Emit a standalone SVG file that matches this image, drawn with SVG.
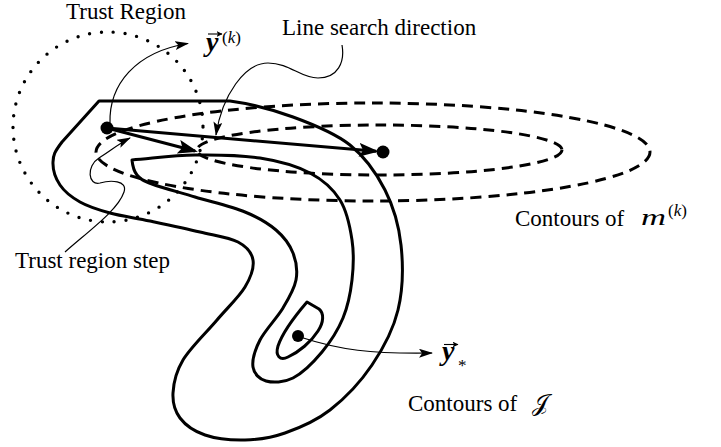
<svg xmlns="http://www.w3.org/2000/svg" width="721" height="447" viewBox="0 0 721 447">
  <style>
    .contour { fill: none; stroke: #000; stroke-width: 3; stroke-linejoin: round; }
    .dashed { fill: none; stroke: #000; stroke-width: 3; stroke-dasharray: 11 7; }
    .dotted { fill: none; stroke: #000; stroke-width: 3.4; stroke-dasharray: 0 11.9; stroke-linecap: round; }
    .thick { fill: none; stroke: #000; stroke-width: 3; }
    .thin { fill: none; stroke: #000; stroke-width: 1.2; }
    .accent { fill: none; stroke: #000; stroke-width: 1.1; }
    .dot { fill: #000; }
    .lbl { font-family: "Liberation Serif", "Times New Roman", serif; font-size: 23px; fill: #000; }
    .math { font-family: "Liberation Serif", "Times New Roman", serif; font-style: italic; fill: #000; }
    .sup { font-family: "Liberation Serif", "Times New Roman", serif; font-size: 17px; fill: #000; }
  </style>
  <defs>
    <marker id="ahThick" markerUnits="userSpaceOnUse" viewBox="0 0 20 14" markerWidth="20" markerHeight="14" refX="17" refY="7" orient="auto">
      <path d="M0,0 L20,7 L0,14 L4,7 Z" fill="#000"/>
    </marker>
    <marker id="ahThin" markerUnits="userSpaceOnUse" viewBox="0 0 14 9" markerWidth="14" markerHeight="9" refX="13" refY="4.5" orient="auto">
      <path d="M0,0 L14,4.5 L0,9 L3,4.5 Z" fill="#000"/>
    </marker>
    <marker id="ahVec" markerUnits="userSpaceOnUse" viewBox="0 0 6 6" markerWidth="6" markerHeight="6" refX="5.5" refY="3" orient="auto">
      <path d="M0,0 L6,3 L0,6 L1.5,3 Z" fill="#000"/>
    </marker>
  </defs>
  <rect width="721" height="447" fill="#fff"/>

  <g id="contours-m">
    <ellipse class="dashed" cx="373" cy="152" rx="277" ry="49"/>
    <ellipse class="dashed" cx="379.5" cy="150" rx="182.5" ry="25"/>
  </g>

  <g id="trust-region">
    <circle class="dotted" cx="108" cy="127" r="95"/>
  </g>

  <g id="contours-J">
    <path class="contour" d="M99,101 L230,101 C250.5,103.8 273,109.7 293,117 C313,124.3 334.7,132.8 350,145 C365.3,157.2 376.5,173.3 385,190 C393.5,206.7 398.8,225 401,245 C403.2,265 402.8,290 398,310 C393.2,330 383.3,348.3 372,365 C360.7,381.7 344.5,398.7 330,410 C315.5,421.3 299.2,428 285,433 C270.8,438 258.3,439.7 245,440 C231.7,440.3 215.8,438.7 205,435 C194.2,431.3 185.3,425 180,418 C174.7,411 172.5,402.7 173,393 C173.5,383.3 175.7,372.2 183,360 C190.3,347.8 206.7,332.2 217,320 C227.3,307.8 239,297 245,287 C251,277 254.2,267.5 253,260 C251.8,252.5 246.8,246.7 238,242 C229.2,237.3 214.7,235.5 200,232 C185.3,228.5 165,224.2 150,221 C135,217.8 121.7,216.2 110,213 C98.3,209.8 88.3,206.7 80,202 C71.7,197.3 64.5,191.7 60,185 C55.5,178.3 52.7,169.2 53,162 C53.3,154.8 54.3,152.2 62,142 L99,101 Z"/>
    <path class="contour" d="M132,160 C153,158.3 173.7,155.3 195,155 C216.3,154.7 240.8,155 260,158 C279.2,161 296.7,166 310,173 C323.3,180 333,188.8 340,200 C347,211.2 350,226.7 352,240 C354,253.3 353.5,267 352,280 C350.5,293 348,306 343,318 C338,330 330.3,342 322,352 C313.7,362 302.3,373.2 293,378 C283.7,382.8 272.7,382.8 266,381 C259.3,379.2 254,373.8 253,367 C252,360.2 255,349.8 260,340 C265,330.2 277,318 283,308 C289,298 294.3,289.2 296,280 C297.7,270.8 296.3,261.3 293,253 C289.7,244.7 284,236.8 276,230 C268,223.2 258.5,217.5 245,212 C231.5,206.5 210.5,201.7 195,197 C179.5,192.3 161.5,187.7 152,184 C142.3,180.3 140.3,179 137,175 C133.7,171 132.5,165 132,160 Z"/>
    <path class="contour" d="M307,302 L319,309 C324,313 324,322 318,331 C311,342 299,352 288,357 C280,361 275,356 278,346 C282,334 295,316 307,302 Z"/>
  </g>

  <g id="connectors">
    <path class="thick" d="M107,128 L376,151.3" marker-end="url(#ahThick)"/>
    <path class="thick" d="M107,128 L195,151" marker-end="url(#ahThick)"/>
    <path class="thin" d="M110,123 C109,85 135,52 188,43.5" marker-end="url(#ahThin)"/>
    <path class="thin" d="M342,45 C345,62 338,78 318,78 C300,78 290,63 268,63 C245,63 222,95 216,135" marker-end="url(#ahThin)"/>
    <path class="thin" d="M65,252 C90,230 118,210 124,192 C128,180 110,180 100,183 C88,186 86,166 99,158 C110,151 120,143 130,138" marker-end="url(#ahThin)"/>
    <path class="thin" d="M300,337 C340,350 370,354 432,353" marker-end="url(#ahThin)"/>
  </g>

  <g id="node-yk">
    <circle class="dot" cx="107" cy="128" r="6.5"/>
    <path class="accent" d="M208,34 L222,34" marker-end="url(#ahVec)"/>
    <text class="math" x="206" y="51" font-size="28" font-weight="bold">y</text>
    <text class="sup" x="222" y="43">(<tspan font-style="italic">k</tspan>)</text>
  </g>

  <g id="node-line-search-end">
    <circle class="dot" cx="383" cy="152" r="6.5"/>
  </g>

  <g id="node-ystar">
    <circle class="dot" cx="298" cy="336" r="6"/>
    <path class="accent" d="M444,344.5 L458,344.5" marker-end="url(#ahVec)"/>
    <text class="math" x="442" y="360" font-size="28" font-weight="bold">y</text>
    <text class="sup" x="458" y="371">*</text>
  </g>

  <g id="labels">
    <text class="lbl" x="66" y="19">Trust Region</text>
    <text class="lbl" x="282" y="35">Line search direction</text>
    <text class="lbl" x="15" y="268">Trust region step</text>
    <text class="lbl" x="515" y="226">Contours of</text>
    <text class="math" x="641" y="225" font-size="23" textLength="25" lengthAdjust="spacingAndGlyphs">m</text>
    <text class="sup" x="668" y="216">(<tspan font-style="italic">k</tspan>)</text>
    <text class="lbl" x="408" y="411">Contours of</text>
    <text x="532" y="411" font-family="Liberation Serif, 'DejaVu Serif', 'DejaVu Sans', serif" font-size="24">𝒥</text>
  </g>
</svg>
